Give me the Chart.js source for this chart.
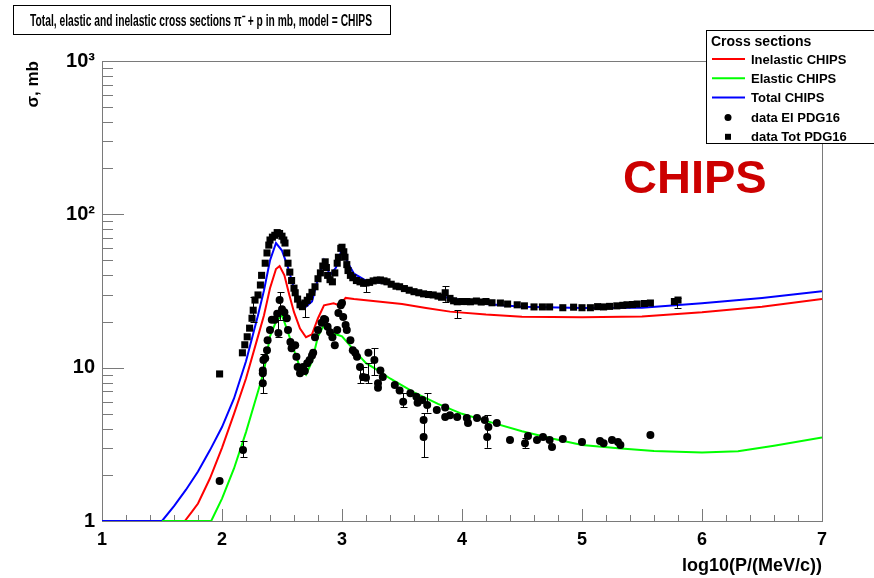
<!DOCTYPE html>
<html>
<head>
<meta charset="utf-8">
<script src="https://cdn.jsdelivr.net/npm/chart.js@4.4.1/dist/chart.umd.min.js"></script>
<style>
  html, body { margin: 0; padding: 0; background: #fff; }
  canvas { display: block; }
</style>
</head>
<body>
<canvas id="xsChart" width="874" height="578"></canvas>
<script>
// axis ticks
const xTickVals = [1, 2, 3, 4, 5, 6, 7];
const yTickVals = [1, 10, 100, 1000];
const yTickText = ['1', '10', '10²', '10³'];

// CHIPS model curves (x = log10(P/(MeV/c)), y = sigma in mb)
const inelX = [1.5, 1.69, 1.75, 1.8, 1.9, 2.0, 2.1, 2.2, 2.3, 2.35, 2.4, 2.45, 2.48, 2.52, 2.56, 2.6, 2.65, 2.7, 2.75, 2.8, 2.85, 2.93, 2.98, 3.03, 3.1, 3.3, 3.5, 3.7, 3.9, 4.2, 4.5, 5.0, 5.5, 6.0, 6.5, 7.0];
const inelY = [1, 1, 1.15, 1.3, 1.9, 3.0, 5.0, 8.5, 16, 22, 33, 44, 46, 40, 30, 23, 18, 15.8, 16.5, 21, 25.5, 26.3, 25.5, 28.5, 28, 27, 26, 24.5, 23.2, 22.2, 21.5, 21.3, 21.6, 23, 25, 28];

const elX = [1.5, 1.91, 2.0, 2.1, 2.2, 2.3, 2.35, 2.4, 2.45, 2.5, 2.55, 2.6, 2.65, 2.7, 2.75, 2.8, 2.85, 2.9, 2.95, 3.0, 3.1, 3.2, 3.3, 3.4, 3.6, 3.8, 4.0, 4.2, 4.5, 4.75, 5.0, 5.3, 5.6, 6.0, 6.3, 6.6, 7.0];
const elY = [1, 1, 1.4, 2.2, 3.8, 7, 9.5, 16, 20, 22, 17, 13, 10, 9, 11, 16, 19, 17.5, 16.5, 16, 13, 10.7, 9.6, 8.5, 6.9, 5.8, 5.0, 4.5, 3.85, 3.45, 3.13, 2.98, 2.86, 2.8, 2.85, 3.1, 3.5];

const totX = [1.0, 1.5, 1.6, 1.7, 1.8, 1.9, 2.0, 2.1, 2.2, 2.3, 2.35, 2.4, 2.45, 2.5, 2.55, 2.6, 2.65, 2.7, 2.75, 2.8, 2.85, 2.9, 2.95, 3.0, 3.05, 3.1, 3.2, 3.3, 3.4, 3.5, 3.7, 3.9, 4.0, 4.2, 4.5, 5.0, 5.5, 6.0, 6.5, 7.0];
const totY = [1, 1, 1.25, 1.6, 2.1, 2.9, 4.1, 6.3, 11, 22, 32, 50, 65, 58, 45, 33, 27, 25, 27, 38, 50, 40, 45, 60, 48, 41, 37, 36, 35, 33, 30, 28.5, 27.5, 26, 25, 24.5, 24.6, 26.3, 28.5, 31.5];

// PDG16 data, elastic (x, y)
const dataElX = [1.98, 2.175, 2.34, 2.34, 2.34, 2.345, 2.36, 2.375, 2.38, 2.4, 2.415, 2.44, 2.46, 2.47, 2.48, 2.5, 2.52, 2.54, 2.55, 2.57, 2.58, 2.61, 2.62, 2.63, 2.65, 2.675, 2.69, 2.71, 2.73, 2.75, 2.76, 2.775, 2.8, 2.83, 2.85, 2.86, 2.88, 2.9, 2.92, 2.94, 2.96, 2.97, 2.99, 3.0, 3.01, 3.03, 3.04, 3.07, 3.09, 3.11, 3.125, 3.15, 3.175, 3.2, 3.22, 3.27, 3.3, 3.3, 3.32, 3.34, 3.44, 3.48, 3.51, 3.57, 3.62, 3.63, 3.67, 3.68, 3.68, 3.71, 3.79, 3.86, 3.86, 3.9, 3.96, 4.04, 4.05, 4.125, 4.19, 4.21, 4.22, 4.29, 4.4, 4.525, 4.55, 4.625, 4.675, 4.73, 4.75, 4.84, 5.0, 5.15, 5.18, 5.25, 5.3, 5.32, 5.57];
const dataElY = [1.82, 2.9, 7.9, 9.2, 9.6, 11.2, 11.5, 13, 15.1, 17.6, 20.5, 20.5, 22.5, 16.8, 27.6, 24, 23, 21, 17.6, 14.7, 13.4, 14, 11.8, 10.1, 9.2, 10.1, 9.5, 10.7, 11.2, 12, 12.5, 15.8, 17.6, 19.6, 20.8, 20.5, 18.5, 17, 15.8, 14, 17.6, 22.7, 25.5, 26.4, 21.4, 19, 17.6, 15.1, 13, 12.5, 11.8, 10.1, 8.7, 8.6, 12.5, 11.2, 7.9, 7.4, 9.6, 8.7, 7.7, 7.1, 6.0, 6.8, 6.45, 5.9, 6.15, 4.56, 3.53, 5.7, 5.3, 5.5, 4.77, 4.9, 4.77, 4.7, 4.35, 4.7, 4.56, 3.53, 4.1, 4.35, 3.37, 3.22, 3.59, 3.37, 3.53, 3.37, 3.04, 3.43, 3.28, 3.32, 3.22, 3.37, 3.28, 3.13, 3.64];

// PDG16 data, total (x, y)
const dataTotX = [1.98, 2.17, 2.19, 2.21, 2.23, 2.25, 2.26, 2.275, 2.3, 2.32, 2.33, 2.36, 2.375, 2.39, 2.4, 2.42, 2.44, 2.46, 2.48, 2.5, 2.515, 2.525, 2.54, 2.55, 2.565, 2.58, 2.6, 2.61, 2.63, 2.65, 2.67, 2.69, 2.71, 2.73, 2.75, 2.775, 2.8, 2.82, 2.84, 2.86, 2.87, 2.88, 2.9, 2.92, 2.94, 2.96, 2.97, 2.99, 3.0, 3.015, 3.025, 3.04, 3.05, 3.07, 3.09, 3.12, 3.15, 3.18, 3.2, 3.23, 3.26, 3.29, 3.32, 3.35, 3.375, 3.41, 3.45, 3.48, 3.52, 3.56, 3.6, 3.64, 3.68, 3.72, 3.76, 3.8, 3.83, 3.86, 3.9, 3.93, 3.96, 4.0, 4.04, 4.07, 4.12, 4.16, 4.2, 4.25, 4.32, 4.38, 4.46, 4.52, 4.6, 4.67, 4.73, 4.84, 4.93, 5.0, 5.07, 5.13, 5.18, 5.23, 5.29, 5.34, 5.375, 5.42, 5.46, 5.52, 5.57, 5.77, 5.8];
const dataTotY = [9.1, 12.5, 14.1, 15.9, 18.1, 21, 23.7, 27.6, 29.8, 34.6, 40, 48, 56, 63, 68, 71, 73, 76, 75, 72, 68, 65, 56, 48, 42, 37, 33, 30.8, 28, 25.7, 25, 26.4, 27.5, 29, 31, 33.7, 38, 41.5, 46, 49, 45, 40, 37.5, 36.3, 41.5, 48, 52.5, 60, 61, 57, 52.5, 47, 43, 40, 38.6, 37, 36.3, 35.5, 35.7, 36, 36.8, 37.2, 37.3, 36.8, 36.3, 35, 34, 33.7, 32.8, 32, 31.3, 30.8, 30.3, 30, 29.8, 29.3, 28.8, 30.8, 28.3, 27.3, 26.9, 27, 27, 26.9, 27.2, 26.8, 27, 26.5, 26.4, 26, 25.7, 25.3, 24.9, 24.9, 24.9, 24.6, 24.8, 24.6, 24.6, 25, 24.9, 25.1, 25.3, 25.5, 25.7, 25.8, 26, 26.2, 26.4, 27, 27.6];

// error bars: x, low, high
const errElX = [2.175, 2.34, 2.47, 2.48, 3.15, 3.175, 3.22, 3.27, 3.51, 3.68, 3.71, 4.21, 4.525];
const errElLo = [2.6, 6.8, 15.8, 20.5, 7.9, 8.3, 7.9, 8.9, 5.5, 2.6, 5.1, 3.0, 3.0];
const errElHi = [3.3, 12.2, 20.5, 31, 10.1, 10.1, 10.7, 13.4, 6.8, 5.05, 6.8, 4.9, 3.5];
const errTotX = [2.26, 2.69, 3.2, 3.86, 3.96, 5.79];
const errTotLo = [19.9, 21.4, 31, 26.9, 21, 24.6];
const errTotHi = [29, 26.4, 35.7, 34, 23.7, 28.5];

const legendItems = [
  { text: 'Inelastic CHIPS', kind: 'line', color: '#ff0000' },
  { text: 'Elastic CHIPS', kind: 'line', color: '#00ff00' },
  { text: 'Total CHIPS', kind: 'line', color: '#0000ff' },
  { text: 'data El PDG16', kind: 'circle', color: '#000000' },
  { text: 'data Tot PDG16', kind: 'rect', color: '#000000' }
];

const pts = (xs, ys) => xs.map((x, i) => ({ x: x, y: ys[i] }));
const FONT = '"Liberation Sans", Arial, sans-serif';

const decor = {
  id: 'decor',
  beforeDraw(chart) {
    const ctx = chart.ctx;
    ctx.save();
    ctx.fillStyle = '#fff';
    ctx.fillRect(0, 0, chart.width, chart.height);
    ctx.restore();
  },
  beforeDatasetsDraw(chart) {
    const ctx = chart.ctx;
    const a = chart.chartArea;
    const xs = chart.scales.x, ys = chart.scales.y;
    ctx.save();
    ctx.strokeStyle = '#7a7a7a';
    ctx.lineWidth = 1;
    ctx.strokeRect(Math.round(a.left) + 0.5, Math.round(a.top) + 0.5, Math.round(a.right - a.left), Math.round(a.bottom - a.top));
    ctx.beginPath();
    // x ticks: major at integers, minor every 0.2
    for (let k = 0; k <= 30; k++) {
      const v = 1 + k * 0.2;
      const px = Math.round(xs.getPixelForValue(v)) + 0.5;
      const len = (k % 5 === 0) ? 12 : 6;
      ctx.moveTo(px, a.bottom);
      ctx.lineTo(px, a.bottom - len);
    }
    // y ticks: log decades with minor 2..9
    for (let d = 1; d <= 100; d *= 10) {
      for (let m = 1; m <= 9; m++) {
        const v = d * m;
        const py = Math.round(ys.getPixelForValue(v)) + 0.5;
        const len = (m === 1) ? 22 : 11;
        ctx.moveTo(a.left, py);
        ctx.lineTo(a.left + len, py);
      }
    }
    ctx.stroke();
    ctx.restore();
  },
  afterDatasetsDraw(chart) {
    const ctx = chart.ctx;
    const xs = chart.scales.x, ys = chart.scales.y;
    ctx.save();
    ctx.strokeStyle = '#000';
    ctx.lineWidth = 1;
    ctx.beginPath();
    const bars = (bx, lo, hi) => {
      bx.forEach((x, i) => {
        const px = Math.round(xs.getPixelForValue(x)) + 0.5;
        const y1 = ys.getPixelForValue(lo[i]);
        const y2 = ys.getPixelForValue(hi[i]);
        ctx.moveTo(px, y1); ctx.lineTo(px, y2);
        ctx.moveTo(px - 3, Math.round(y1) + 0.5); ctx.lineTo(px + 4, Math.round(y1) + 0.5);
        ctx.moveTo(px - 3, Math.round(y2) + 0.5); ctx.lineTo(px + 4, Math.round(y2) + 0.5);
      });
    };
    bars(errElX, errElLo, errElHi);
    bars(errTotX, errTotLo, errTotHi);
    ctx.stroke();
    ctx.restore();
  },
  afterDraw(chart) {
    const ctx = chart.ctx;
    const a = chart.chartArea;
    ctx.save();

    // title box
    ctx.fillStyle = '#fff';
    ctx.fillRect(13, 5, 377, 29);
    ctx.strokeStyle = '#000';
    ctx.lineWidth = 1;
    ctx.strokeRect(13.5, 5.5, 377, 29);
    ctx.fillStyle = '#000';
    ctx.font = 'bold 16px ' + FONT;
    ctx.textAlign = 'center';
    ctx.textBaseline = 'alphabetic';
    ctx.fillText('Total, elastic and inelastic cross sections π⁻ + p in mb, model = CHIPS', 201, 26, 342);

    // legend box
    ctx.fillStyle = '#fff';
    ctx.fillRect(706, 30, 170, 113);
    ctx.strokeRect(706.5, 30.5, 170, 113);
    ctx.fillStyle = '#000';
    ctx.textAlign = 'left';
    ctx.font = 'bold 14px ' + FONT;
    ctx.fillText('Cross sections', 711, 46, 116);
    ctx.font = 'bold 13px ' + FONT;
    legendItems.forEach((it, i) => {
      const cy = 59 + i * 19.2;
      if (it.kind === 'line') {
        ctx.strokeStyle = it.color;
        ctx.lineWidth = 2;
        ctx.beginPath();
        ctx.moveTo(712, cy); ctx.lineTo(745, cy);
        ctx.stroke();
      } else if (it.kind === 'circle') {
        ctx.beginPath();
        ctx.arc(728, cy + 1, 3.5, 0, Math.PI * 2);
        ctx.fill();
      } else {
        ctx.fillRect(725, cy - 2, 6, 6);
      }
      ctx.fillStyle = '#000';
      ctx.fillText(it.text, 751, cy + 5);
    });

    // CHIPS label
    ctx.fillStyle = '#cc0000';
    ctx.font = 'bold 47px ' + FONT;
    ctx.fillText('CHIPS', 623, 193);

    // axis titles
    ctx.fillStyle = '#000';
    ctx.font = 'bold 18px ' + FONT;
    ctx.textAlign = 'right';
    ctx.fillText('log10(P/(MeV/c))', a.right, 571, 172);
    ctx.translate(38, a.top);
    ctx.rotate(-Math.PI / 2);
    ctx.font = 'bold 17px ' + FONT;
    ctx.fillText('σ, mb', 0, 0);
    ctx.restore();
  }
};

new Chart(document.getElementById('xsChart'), {
  type: 'scatter',
  data: {
    datasets: [
      { label: 'data El PDG16', data: pts(dataElX, dataElY), pointStyle: 'circle', pointRadius: 4, pointBackgroundColor: '#000', pointBorderWidth: 0, order: 0 },
      { label: 'data Tot PDG16', data: pts(dataTotX, dataTotY), pointStyle: 'rect', pointRadius: 5, pointBackgroundColor: '#000', pointBorderWidth: 0, order: 0 },
      { label: 'Elastic CHIPS', data: pts(elX, elY), showLine: true, borderColor: '#00ff00', borderWidth: 2, pointRadius: 0, order: 1 },
      { label: 'Inelastic CHIPS', data: pts(inelX, inelY), showLine: true, borderColor: '#ff0000', borderWidth: 2, pointRadius: 0, order: 2 },
      { label: 'Total CHIPS', data: pts(totX, totY), showLine: true, borderColor: '#0000ff', borderWidth: 2, pointRadius: 0, order: 3 }
    ]
  },
  options: {
    responsive: false,
    animation: false,
    devicePixelRatio: 1,
    layout: { padding: { left: 0, top: 61, right: 52, bottom: 0 } },
    plugins: { legend: { display: false }, tooltip: { enabled: false } },
    scales: {
      x: {
        type: 'linear', min: 1, max: 7,
        afterBuildTicks: s => { s.ticks = xTickVals.map(v => ({ value: v })); },
        afterFit: s => { s.height = 57; },
        grid: { display: false, drawTicks: false },
        border: { display: false },
        ticks: { color: '#000', font: { family: FONT, size: 18, weight: 'bold' }, padding: 8, maxRotation: 0, autoSkip: false }
      },
      y: {
        type: 'logarithmic', min: 1, max: 1000,
        afterBuildTicks: s => { s.ticks = yTickVals.map(v => ({ value: v })); },
        afterFit: s => { s.width = 102; },
        grid: { display: false, drawTicks: false },
        border: { display: false },
        ticks: {
          color: '#000', font: { family: FONT, size: 20, weight: 'bold' }, padding: 7,
          callback: v => yTickText[yTickVals.indexOf(v)]
        }
      }
    }
  },
  plugins: [decor]
});
</script>
</body>
</html>
